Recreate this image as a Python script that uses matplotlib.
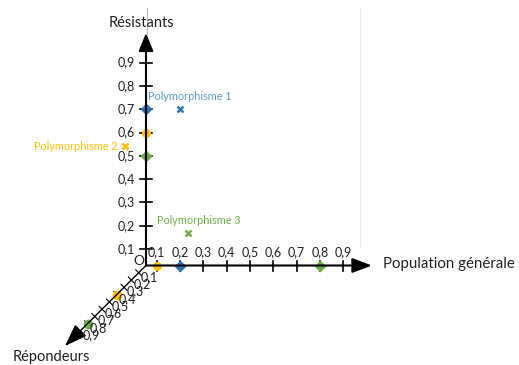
import numpy as np
import matplotlib
matplotlib.use('Agg')
import matplotlib.pyplot as plt

plt.rcParams['font.family'] = ['Lato', 'DejaVu Sans']

# axis graduations
ticks = [0.1, 0.2, 0.3, 0.4, 0.5, 0.6, 0.7, 0.8, 0.9]
tick_labels = ['0,1', '0,2', '0,3', '0,4', '0,5', '0,6', '0,7', '0,8', '0,9']

# series (Polymorphisme 1, 2, 3)
names = ['Polymorphisme 1', 'Polymorphisme 2', 'Polymorphisme 3']
pop_generale = [0.2, 0.1, 0.8]
resistants = [0.7, 0.6, 0.5]
repondeurs = [np.nan, 0.4, 0.8]
# cross marks in the (population, résistants) plane
cross_pop = [0.2, -0.035, 0.235]
cross_res = [0.7, 0.54, 0.17]

colors = ['#2E75B6', '#FFC000', '#70AD47']
label_colors = ['#5B9BD5', '#FFC000', '#70AD47']
dot_markers = ['D', 'o', 'D']

# pseudo-3D layout, in pixels
ox, oy = 146.0, 265.5
step_h = 233.6
step_v = 233.0
step_d = 73.0


def hx(h):
    return 133.2 + step_h * h


def vy(v):
    return 272.3 - step_v * v


def dxy(d):
    return ox - step_d * d, oy + step_d * d


fig = plt.figure(figsize=(5.19, 3.65), dpi=100)
ax = fig.add_axes([0, 0, 1, 1])
ax.set_xlim(0, 519)
ax.set_ylim(365, 0)
ax.axis('off')

# faint frame lines
ax.plot([146.7, 146.7], [8, 34], color='#b8b8b8', lw=0.8)
ax.plot([360.3, 360.3], [8, 248], color='#ececec', lw=0.8)

# vertical axis
ax.annotate('', xy=(ox, 33), xytext=(ox, oy),
            arrowprops=dict(arrowstyle='-|>,head_length=1.1,head_width=0.45',
                            color='black', lw=1.5, shrinkA=0, shrinkB=0))
# horizontal axis
ax.annotate('', xy=(372, oy), xytext=(ox, oy),
            arrowprops=dict(arrowstyle='-|>,head_length=1.2,head_width=0.45',
                            color='black', lw=1.5, shrinkA=0, shrinkB=0))
# depth axis
ax.annotate('', xy=(65, 346), xytext=(ox, oy),
            arrowprops=dict(arrowstyle='-|>,head_length=1.4,head_width=0.5',
                            color='black', lw=1.0, shrinkA=0, shrinkB=0))

for t, lab in zip(ticks, tick_labels):
    y = vy(t)
    ax.plot([ox - 6, ox + 6], [y, y], color='black', lw=1.2)
    ax.text(135, y, lab, ha='right', va='center', fontsize=9, color='#222222')
    x = hx(t)
    ax.plot([x, x], [oy - 5, oy + 5], color='black', lw=1.2)
    ax.text(x, oy - 7, lab, ha='center', va='bottom', fontsize=9, color='#222222')
    px, py = dxy(t)
    ax.plot([px - 3, px + 3], [py - 3, py + 3], color='black', lw=0.8)
    ax.text(px + 11, py + 4, lab, ha='center', va='center', fontsize=9, color='#222222')

ax.text(139, 261, 'O', ha='center', va='center', fontsize=10, color='#222222')

# axis titles
ax.text(141, 23, 'Résistants', ha='center', va='center', fontsize=10.5, color='#222222')
ax.text(383, 264, 'Population générale', ha='left', va='center', fontsize=10.8, color='#222222')
ax.text(51, 357, 'Répondeurs', ha='center', va='center', fontsize=10.5, color='#222222')

# points on each axis
for i in range(3):
    ax.plot(ox, vy(resistants[i]), marker=dot_markers[i], color=colors[i], ms=6.5, mec='none')
    ax.plot(hx(pop_generale[i]), oy, marker=dot_markers[i], color=colors[i], ms=6.5, mec='none')
    if not np.isnan(repondeurs[i]):
        px, py = dxy(repondeurs[i])
        ax.plot(px, py, marker='o', color=colors[i], ms=7, mec='none')
    ax.plot(hx(cross_pop[i]), vy(cross_res[i]), marker='x', color=colors[i], ms=4, mew=1.8)

ax.text(148, 97, names[0], ha='left', va='center', fontsize=7.8, color=label_colors[0])
ax.text(118, 146, names[1], ha='right', va='center', fontsize=7.8, color=label_colors[1])
ax.text(157, 220, names[2], ha='left', va='center', fontsize=7.8, color=label_colors[2])

fig.savefig('out.png', dpi=100)
